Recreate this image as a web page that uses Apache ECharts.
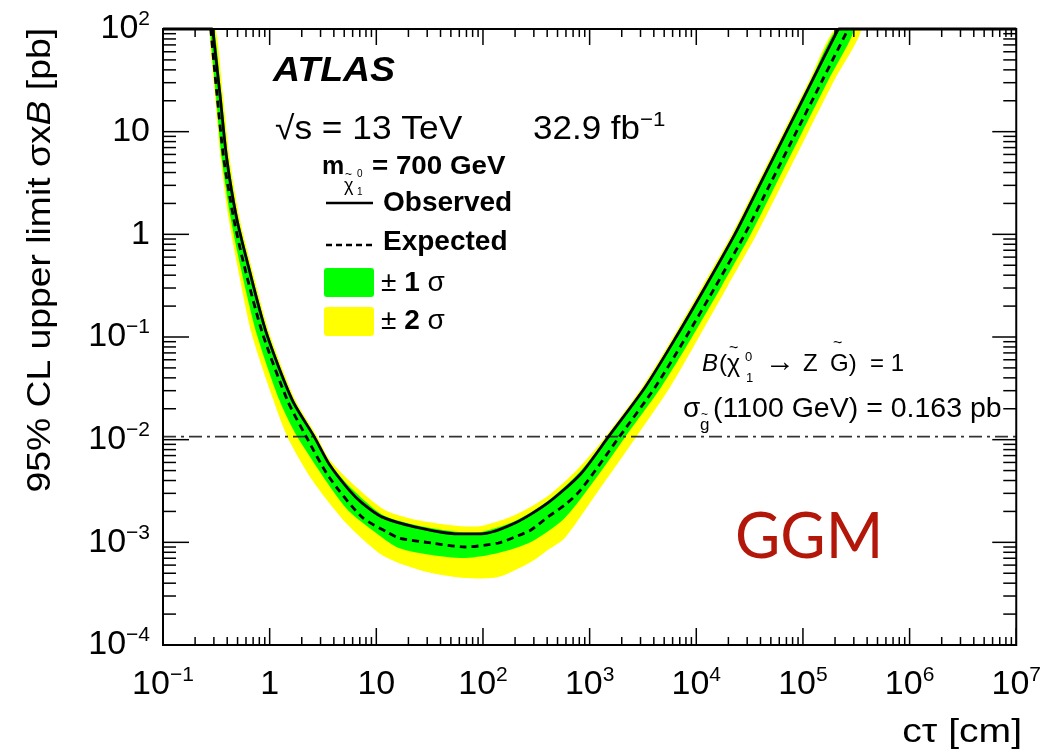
<!DOCTYPE html>
<html><head><meta charset="utf-8">
<script src="https://cdn.jsdelivr.net/npm/echarts@6/dist/echarts.min.js"></script>
<style>html,body{margin:0;padding:0;background:#fff}#c{width:1044px;height:749px}</style>
</head><body><div id="c"></div>
<script>
// ---- data (ctau [cm], 95% CL upper limit on sigma x B [pb]) ----
const xTickValues = [0.1, 1, 10, 100, 1e3, 1e4, 1e5, 1e6, 1e7];
const yTickValues = [1e-4, 1e-3, 1e-2, 1e-1, 1, 10, 100];
const observed = [[0.2925,100],[0.3401,24.3],[0.3951,5.54],[0.4898,1.44],[0.6337,0.481],[0.9327,0.109],[1.630,0.0243],[2.614,0.0107],[3.607,0.00579],[5.541,0.00324],[7.326,0.00242],[11.25,0.00177],[23.35,0.00141],[58.8,0.00121],[96.3,0.00121],[199.8,0.00154],[405.9,0.00242],[824,0.00463],[1504,0.0107],[3328,0.0326],[6474,0.1],[12330,0.316],[22980,1],[40150,3.16],[70200,10],[122600,31.6],[214300,100]];
const observedCapLow = [[0.1,100],[0.2925,100]];   // limit above plotted range (shown at 100)
const observedCapHigh = [[214300,100],[1e7,100]];
const expected = [[0.2803,100],[0.3189,24.3],[0.3705,5.54],[0.4592,1.44],[0.5813,0.481],[0.8558,0.109],[1.464,0.0243],[2.201,0.0107],[3.607,0.004325],[7.326,0.001766],[13.08,0.001234],[16.21,0.001102],[32.93,0.000985],[68.32,0.000901],[138.8,0.000985],[199.8,0.001128],[281.8,0.001319],[405.9,0.001766],[584.8,0.002311],[824.4,0.003236],[1905,0.0107],[4125,0.0326],[8024,0.1],[15280,0.316],[28480,1],[49770,3.16],[86970,10],[152000,31.6],[265600,100]];
const plus1sigma = [[0.3021,100],[0.3511,24.3],[0.4080,5.54],[0.5058,1.44],[0.6544,0.481],[0.9632,0.109],[1.683,0.0243],[2.699,0.0107],[3.607,0.00606],[5.783,0.003381],[11.50,0.001846],[23.35,0.001476],[58.78,0.001262],[96.3,0.001262],[199.8,0.001614],[405.9,0.002529],[806.9,0.004842],[1456,0.0107],[3223,0.0326],[6270,0.1],[11940,0.316],[22250,1],[38870,3.16],[67970,10],[118700,31.6],[207500,100]];
const minus1sigma = [[0.2773,100],[0.3120,24.3],[0.3549,5.54],[0.4305,1.44],[0.5334,0.481],[0.7525,0.109],[1.233,0.0243],[1.815,0.0107],[5.195,0.002160],[10.55,0.001180],[16.21,0.000881],[32.93,0.000753],[68.32,0.000704],[138.8,0.000788],[281.8,0.001007],[584.8,0.001727],[1187,0.004428],[2166,0.0107],[4692,0.0326],[9129,0.1],[17385,0.316],[32400,1],[56610,3.16],[98930,10],[172900,31.6],[302100,100]];
const plus2sigma = [[0.3120,100],[0.3626,24.3],[0.4213,5.54],[0.5224,1.44],[0.6759,0.481],[0.9947,0.109],[1.739,0.0243],[2.788,0.0107],[3.607,0.00649],[6.037,0.003698],[12.00,0.002064],[23.85,0.001651],[58.78,0.001443],[96.3,0.001443],[199.8,0.001846],[405.9,0.002827],[773,0.005181],[1410,0.0107],[3121,0.0326],[6071,0.1],[11495,0.316],[21540,1],[37650,3.16],[65810,10],[115000,31.6],[201000,100]];
const minus2sigma = [[0.2743,100],[0.3053,24.3],[0.3474,5.54],[0.4124,1.44],[0.5004,0.481],[0.6759,0.109],[1.084,0.0243],[1.464,0.0107],[2.504,0.004046],[5.195,0.001543],[10.55,0.000788],[16.21,0.000630],[32.93,0.000502],[68.32,0.000449],[138.8,0.000459],[281.8,0.000644],[405.9,0.000842],[584.8,0.001102],[1187,0.003093],[2744,0.0107],[5691,0.0326],[10610,0.1],[19770,0.316],[36850,1],[64420,3.16],[112500,10],[196700,31.6],[351300,100]];
const gluinoLimit = 0.0107; // reference line for sigma_gluino(1100 GeV)
const xRange = [0.1, 1e7];
const yRange = [1e-4, 100];

const FONT = 'Liberation Sans';
const SMOOTH = 0.25;

function supFmt(v){
  const e = Math.round(Math.log10(v));
  if (e === 0) return '{a|1}';
  if (e === 1) return '{a|10}';
  return '{a|10}{s|' + (e < 0 ? '\u2212' + (-e) : e) + '}';
}
const labelRich = {
  a:{fontSize:34, fontFamily:FONT, color:'#000', lineHeight:40},
  s:{fontSize:21, fontFamily:FONT, color:'#000', verticalAlign:'top', lineHeight:22}
};

function band(upper, lower, color){
  return {
    type:'custom', coordinateSystem:'cartesian2d', silent:true, clip:true,
    data:[upper[0]],
    renderItem:function(params, api){
      const cs = params.coordSys;
      const pts = upper.map(p => api.coord(p)).concat(lower.slice().reverse().map(p => api.coord(p)));
      return {type:'polygon', shape:{points:pts, smooth:SMOOTH,
        smoothConstraint:[[cs.x, cs.y],[cs.x + cs.width, cs.y + cs.height]]}, style:{fill:color}};
    }
  };
}

function frameAndTicks(){
  return {
    type:'custom', coordinateSystem:'cartesian2d', silent:true, clip:false, z:10,
    data:[[1,1]],
    renderItem:function(params, api){
      const cs = params.coordSys;
      const ch = [];
      const st = {stroke:'#000', lineWidth:1.5};
      const bottom = cs.y + cs.height, right = cs.x + cs.width;
      const kx0 = Math.round(Math.log10(xRange[0])), kx1 = Math.round(Math.log10(xRange[1]));
      for (let k = kx0; k <= kx1; k++){
        for (let m = 1; m <= 9; m++){
          if (k === kx1 && m > 1) break;
          const x = api.coord([m*Math.pow(10,k), 1])[0];
          const lb = m === 1 ? 17 : 8, lt = m === 1 ? 16 : 8;
          ch.push({type:'line', shape:{x1:x, y1:bottom, x2:x, y2:bottom-lb}, style:st});
          ch.push({type:'line', shape:{x1:x, y1:cs.y, x2:x, y2:cs.y+lt}, style:st});
        }
      }
      const ky0 = Math.round(Math.log10(yRange[0])), ky1 = Math.round(Math.log10(yRange[1]));
      for (let k = ky0; k <= ky1; k++){
        for (let m = 1; m <= 9; m++){
          if (k === ky1 && m > 1) break;
          const y = api.coord([1, m*Math.pow(10,k)])[1];
          const ll = m === 1 ? 26 : 13, lr = m === 1 ? 24 : 13;
          ch.push({type:'line', shape:{x1:cs.x, y1:y, x2:cs.x+ll, y2:y}, style:st});
          ch.push({type:'line', shape:{x1:right, y1:y, x2:right-lr, y2:y}, style:st});
        }
      }
      ch.push({type:'rect', shape:{x:cs.x, y:cs.y, width:cs.width, height:cs.height}, style:{fill:null, stroke:'#000', lineWidth:2}});
      return {type:'group', children:ch};
    }
  };
}

function T(x, y, text, size, extra, sx){
  return {type:'text', x:x, y:y, scaleX:sx||1, silent:true, z:100,
    style:Object.assign({text:text, fontSize:size, fontFamily:FONT, fill:'#000', verticalAlign:'middle', align:'left'}, extra||{})};
}
const supRich = {s:{fontSize:21, fontFamily:FONT, fill:'#000', verticalAlign:'top', lineHeight:22}};
const boldRich = {b:{fontWeight:'bold', fontSize:28, fontFamily:FONT, fill:'#000'}};

const chart = echarts.init(document.getElementById('c'), null, {renderer:'canvas'});
chart.setOption({
  animation:false,
  backgroundColor:'#fff',
  grid:{left:163, right:23, top:29, bottom:104, show:false},
  xAxis:{type:'log', logBase:10, min:xRange[0], max:xRange[1], splitNumber:8,
    axisLine:{show:false}, axisTick:{show:false}, splitLine:{show:false}, minorTick:{show:false},
    axisLabel:{interval:0, margin:20, formatter:supFmt, rich:labelRich, showMinLabel:true, showMaxLabel:true}},
  yAxis:{type:'log', logBase:10, min:yRange[0], max:yRange[1], splitNumber:6,
    axisLine:{show:false}, axisTick:{show:false}, splitLine:{show:false}, minorTick:{show:false},
    axisLabel:{interval:0, margin:13, formatter:supFmt, rich:labelRich, showMinLabel:true, showMaxLabel:true}},
  series:[
    band(plus2sigma, minus2sigma, '#ffff00'),
    band(plus1sigma, minus1sigma, '#00ff00'),
    {type:'line', data:[[xRange[0], gluinoLimit],[xRange[1], gluinoLimit]], showSymbol:false, silent:true,
      lineStyle:{color:'#333', width:1.6, type:[13,5,3,5]}},
    {type:'line', data:expected, showSymbol:false, silent:true, clip:true, smooth:SMOOTH,
      lineStyle:{color:'#000', width:2.8, type:[7,5]}},
    {type:'line', data:observed, showSymbol:false, silent:true, clip:true, smooth:SMOOTH,
      lineStyle:{color:'#000', width:2.8}},
    {type:'line', data:observedCapLow, showSymbol:false, silent:true, clip:false, lineStyle:{color:'#000', width:2.8}},
    {type:'line', data:observedCapHigh, showSymbol:false, silent:true, clip:false, lineStyle:{color:'#000', width:2.8}},
    frameAndTicks()
  ],
  graphic:[
    T(273, 71, 'ATLAS', 35, {fontWeight:'bold', fontStyle:'italic'}, 1.07),
    T(275, 130, '\u221As = 13 TeV', 33, null, 1.07),
    T(533, 130, '32.9 fb{s|\u22121}', 33, {lineHeight:40, rich:supRich}, 1.06),
    T(322, 167, 'm', 25, {fontWeight:'bold'}),
    T(344, 186, '\u03C7', 18),
    T(345, 175, '~', 12),
    T(357, 174, '0', 10),
    T(357, 192, '1', 10),
    T(372, 167, '= 700 GeV', 25, {fontWeight:'bold'}, 1.11),
    {type:'line', silent:true, z:100, shape:{x1:326, y1:203, x2:373, y2:203}, style:{stroke:'#000', lineWidth:2.6}},
    T(383, 203, 'Observed', 28, {fontWeight:'bold'}),
    {type:'line', silent:true, z:100, shape:{x1:326, y1:245, x2:373, y2:245}, style:{stroke:'#000', lineWidth:2.6, lineDash:[6,4]}},
    T(383, 242, 'Expected', 28, {fontWeight:'bold'}),
    {type:'rect', silent:true, z:100, shape:{x:324, y:268, width:50, height:29, r:3}, style:{fill:'#00ff00'}},
    {type:'rect', silent:true, z:100, shape:{x:324, y:307, width:50, height:29, r:3}, style:{fill:'#ffff00'}},
    T(381, 283, '\u00B1 {b|1} \u03C3', 28, {rich:boldRich}),
    T(381, 321, '\u00B1 {b|2} \u03C3', 28, {rich:boldRich}),
    T(702, 364, 'B', 24, {fontStyle:'italic'}),
    T(719, 364, '(', 24),
    T(727, 365, '\u03C7', 25),
    T(729, 349, '~', 16),
    T(745, 357, '0', 13),
    T(746, 378, '1', 13),
    T(765, 363, '\u2192', 30),
    T(803, 364, 'Z', 24),
    T(830, 364, 'G)', 24),
    T(833, 344, '~', 16),
    T(870, 364, '= 1', 24),
    T(683, 409, '\u03C3', 28),
    T(700, 425, 'g', 17),
    T(701, 415, '~', 12),
    T(713, 409, '(1100 GeV) = 0.163 pb', 28.5),
    T(735, 537, 'GGM', 64, {fontFamily:'Lato', fill:'#b2170a'}, 0.97),
    {type:'text', x:41, y:28, rotation:Math.PI/2, scaleX:1.13, silent:true, z:100,
      style:{text:'95% CL upper limit \u03C3x{i|B} [pb]', fontSize:33, fontFamily:FONT, fill:'#000', align:'right', verticalAlign:'middle',
        rich:{i:{fontStyle:'italic', fontSize:33, fontFamily:FONT, fill:'#000'}}}},
    T(1022, 733, 'c\u03C4 [cm]', 34, {align:'right'}, 1.15)
  ]
});
</script></body></html>
